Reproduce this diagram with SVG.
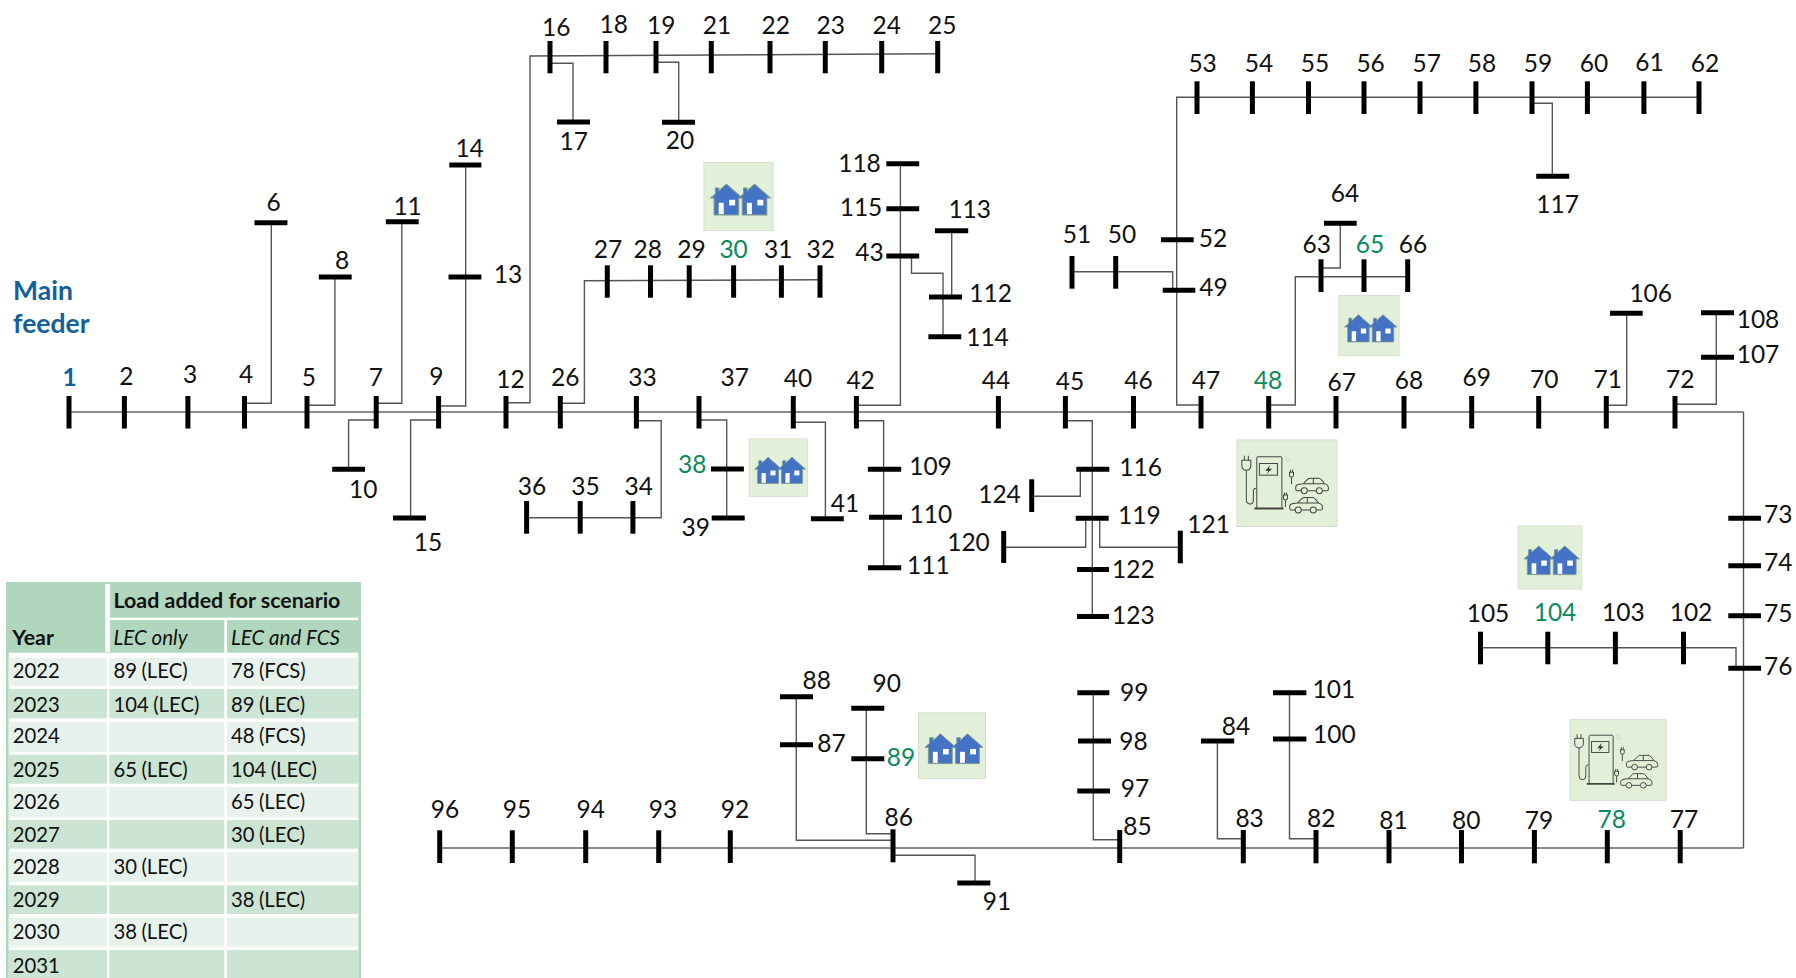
<svg xmlns="http://www.w3.org/2000/svg" width="1796" height="978" viewBox="0 0 1796 978">
<style>
text{font-family:"Lato","Liberation Sans",sans-serif;fill:#111}
.l{font-size:24.5px;text-anchor:middle;transform:translateY(.6px)}
.s{font-size:24.5px;text-anchor:start;transform:translateY(.6px)}
.gr{fill:#0a8a5c}
.bl{fill:#14609c;font-weight:700}
.b{stroke:#000;stroke-width:5;fill:none}
.c{stroke:#555;stroke-width:1.4;fill:none}
.m{stroke:#8c8c8c;stroke-width:2;fill:none}
.t{font-size:20.3px;word-spacing:-.8px}
.th{font-size:21.4px;font-weight:700}
.ti{font-size:20.5px;font-style:italic}
.h{fill:#b0d6bd}.lt{fill:#e8f2ec}.dk{fill:#cce4d4}
.box{fill:#e2efd9;stroke:#d3dacd;stroke-width:1}
.hs{fill:#4472c4;stroke:#7d9b8e;stroke-width:1}
.ic{fill:none;stroke:#444;stroke-width:1}
.feed{font-size:26.5px;font-weight:700;fill:#14609c}
</style>
<defs>
<g id="house">
<path class="hs" d="M7.2,36.6L12,32.4V26.5H15.5V29.4L23,22.5L38.8,36.6H35.2V53.6H10.7V36.6Z"/>
<rect x="15.3" y="41.3" width="5" height="11.5" fill="#fff"/>
<rect x="25.7" y="38.3" width="6" height="5.7" fill="#fff"/>
</g>
<symbol id="lec" viewBox="0 0 70 70" preserveAspectRatio="none">
<rect class="box" x=".5" y=".5" width="69" height="69"/>
<use href="#house"/>
<use href="#house" x="28"/>
</symbol>
<g id="car">
<path class="ic" d="M6,13H1.5Q.5,13 .5,11V9Q.5,7 4,6.5L8,6L13,1Q14,.5 16,.5H23Q25,.5 27,3L29,6Q33,7 33,10V12Q33,13 31,13H27M21,13H12M8,6H29M18,.5V6"/>
<circle class="ic" cx="9" cy="13" r="3"/><circle class="ic" cx="24" cy="13" r="3"/>
</g>
<g id="splug"><path class="ic" d="M-2,0H2V3Q2,5 0,5Q-2,5 -2,3ZM-1,0V-2.5M1,0V-2.5M0,5V12"/></g>
<symbol id="fcs" viewBox="0 0 101 88" preserveAspectRatio="none">
<rect class="box" x=".5" y=".5" width="100" height="87"/>
<path class="ic" d="M20.4,69V19Q20.4,17.6 22,17.6H44Q45.4,17.6 45.4,19V69"/>
<path d="M18,69.5H47" stroke="#444" stroke-width="2" fill="none"/>
<rect class="ic" x="23" y="24.3" width="18" height="11.7"/>
<path d="M33.5,26L29,31.5H32L30,35L35.5,29.5H32.5Z" fill="#333"/>
<path class="ic" d="M5.5,21H14.5V26Q14.5,31 10,31Q5.5,31 5.5,26ZM8,21V16.5M12,21V16.5M10,31V61Q10,65 14,65Q17,65 17,61V52Q17,49 20,49"/>
<path d="M48,20a3,3 0 0 1 3,3M48,17.5a5.5,5.5 0 0 1 5.5,5.5" fill="none" stroke="#c5d2bc" stroke-width=".8"/>
<use href="#car" x="58.7" y="38.6"/>
<use href="#car" x="52.7" y="58"/>
<use href="#splug" x="55" y="33"/>
<use href="#splug" x="49" y="56"/>
</symbol>
</defs>
<rect width="1796" height="978" fill="#fff"/>

<g id="connectors">
<path class="m" d="M69,412H1743.5"/>
<path class="m" d="M440,848H1743.5"/>
<path class="c" d="M1743.5,412V848"/>
<path class="c" d="M244.5,403.3H271.3V222.7"/>
<path class="c" d="M307,405.3H334.9V277"/>
<path class="c" d="M376.2,403.3H401.8V221.7"/>
<path class="c" d="M376.2,420H348.6V469.3"/>
<path class="c" d="M438.6,406H465.7V165"/>
<path class="c" d="M438.6,420H410.6V518"/>
<path class="c" d="M506,402.7H530V56L937.7,53.7"/>
<path class="c" d="M550,63.3H573V122"/>
<path class="c" d="M656,62.3H678.7V122.3"/>
<path class="c" d="M560.3,403.3H584.4V280.7L820,279.7"/>
<path class="c" d="M636.4,420.7H661.2V517.7H526.6"/>
<path class="c" d="M699,420H726.7V518"/>
<path class="c" d="M793.3,422.3H825.4V518.7"/>
<path class="c" d="M856.4,405.3H900.4V163.7"/>
<path class="c" d="M856.4,420.7H883.6V567.7"/>
<path class="c" d="M911.5,256V273.3H943V336.7"/>
<path class="c" d="M951.7,230.7V297"/>
<path class="c" d="M1065.4,420.7H1092.3V616.5"/>
<path class="c" d="M1080.3,469.3V496.3H1031.7"/>
<path class="c" d="M1085.7,518.3V547.3H1003.7"/>
<path class="c" d="M1099.7,518.3V547.3H1180.3"/>
<path class="c" d="M1201,405H1176.7V97.3H1699"/>
<path class="c" d="M1072,271.7H1172.7V290.3"/>
<path class="c" d="M1268.7,405H1295.3V276.7H1407.7"/>
<path class="c" d="M1321,268H1340.3V223.3"/>
<path class="c" d="M1532,103.3H1552.3V176.3"/>
<path class="c" d="M1606.3,405.3H1626.7V313.3"/>
<path class="c" d="M1675,404.3H1716.3V312.7"/>
<path class="c" d="M1480.5,647.7H1736V668.3"/>
<path class="c" d="M1243.3,838.7H1217.4V741"/>
<path class="c" d="M1316,838.7H1289.5V692.7"/>
<path class="c" d="M1119.7,839.7H1093.3V692.7"/>
<path class="c" d="M893,855.3H975V883"/>
<path class="c" d="M893,833.7H866.3V708.3"/>
<path class="c" d="M893,840.3H796.3V696.7"/>
</g>

<g id="icons">
<use href="#lec" x="703.3" y="161.7" width="70.4" height="69.6"/>
<use href="#lec" x="748.5" y="438.3" width="59.7" height="59"/>
<use href="#lec" x="1338.3" y="295" width="61.4" height="61.3"/>
<use href="#lec" x="1517.4" y="525.3" width="65" height="64.4"/>
<use href="#lec" x="918" y="712.3" width="68" height="67"/>
<use href="#fcs" x="1236.3" y="439.3" width="101.4" height="87.7"/>
<use href="#fcs" x="1569.4" y="718.7" width="97.3" height="82.6"/>
</g>

<g id="feeder-label"><text class="feed" x="13" y="300">Main</text><text class="feed" x="13" y="333">feeder</text></g>

<g id="n1"><line class="b" x1="69" y1="396" x2="69" y2="428.5"/><text class="l bl" x="69.7" y="385.7">1</text></g>
<g id="n2"><line class="b" x1="124.4" y1="396" x2="124.4" y2="428.5"/><text class="l" x="126.3" y="384.7">2</text></g>
<g id="n3"><line class="b" x1="187.9" y1="396" x2="187.9" y2="428.5"/><text class="l" x="190.2" y="382.7">3</text></g>
<g id="n4"><line class="b" x1="244.5" y1="396" x2="244.5" y2="428.5"/><text class="l" x="246" y="382">4</text></g>
<g id="n5"><line class="b" x1="307" y1="396" x2="307" y2="428.5"/><text class="l" x="308.8" y="385.7">5</text></g>
<g id="n6"><line class="b" x1="254.5" y1="222.7" x2="287.4" y2="222.7"/><text class="l" x="273.6" y="210">6</text></g>
<g id="n7"><line class="b" x1="376.2" y1="396" x2="376.2" y2="428.5"/><text class="l" x="375.8" y="385.7">7</text></g>
<g id="n8"><line class="b" x1="318.8" y1="277" x2="351.7" y2="277"/><text class="l" x="342" y="268.3">8</text></g>
<g id="n9"><line class="b" x1="438.6" y1="396" x2="438.6" y2="428.5"/><text class="l" x="436.3" y="384.7">9</text></g>
<g id="n10"><line class="b" x1="332.2" y1="469.3" x2="365" y2="469.3"/><text class="l" x="363.2" y="497.3">10</text></g>
<g id="n11"><line class="b" x1="385.8" y1="221.7" x2="418.7" y2="221.7"/><text class="l" x="407.6" y="214">11</text></g>
<g id="n12"><line class="b" x1="506" y1="396" x2="506" y2="428.5"/><text class="l" x="510.5" y="387.3">12</text></g>
<g id="n13"><line class="b" x1="448.5" y1="277" x2="481.4" y2="277"/><text class="s" x="493.7" y="282.7">13</text></g>
<g id="n14"><line class="b" x1="449.3" y1="165" x2="481.4" y2="165"/><text class="l" x="469.6" y="156.3">14</text></g>
<g id="n15"><line class="b" x1="393" y1="518" x2="426" y2="518"/><text class="l" x="427.9" y="550">15</text></g>
<g id="n16"><line class="b" x1="550" y1="41" x2="550" y2="73.3"/><text class="l" x="556.3" y="35">16</text></g>
<g id="n17"><line class="b" x1="557" y1="122" x2="590" y2="122"/><text class="l" x="573.7" y="149.3">17</text></g>
<g id="n18"><line class="b" x1="606" y1="41" x2="606" y2="73.3"/><text class="l" x="613.7" y="32">18</text></g>
<g id="n19"><line class="b" x1="656" y1="41" x2="656" y2="73.3"/><text class="l" x="661.3" y="33.3">19</text></g>
<g id="n20"><line class="b" x1="662" y1="122.3" x2="695" y2="122.3"/><text class="l" x="680" y="148.3">20</text></g>
<g id="n21"><line class="b" x1="711.3" y1="41" x2="711.3" y2="73.3"/><text class="l" x="717" y="33.3">21</text></g>
<g id="n22"><line class="b" x1="770" y1="41" x2="770" y2="73.3"/><text class="l" x="775.7" y="33.3">22</text></g>
<g id="n23"><line class="b" x1="825.3" y1="41" x2="825.3" y2="73.3"/><text class="l" x="830.7" y="33.3">23</text></g>
<g id="n24"><line class="b" x1="881.7" y1="41" x2="881.7" y2="73.3"/><text class="l" x="886.7" y="33.3">24</text></g>
<g id="n25"><line class="b" x1="937.7" y1="41" x2="937.7" y2="73.3"/><text class="l" x="942.3" y="33.3">25</text></g>
<g id="n26"><line class="b" x1="560.3" y1="396" x2="560.3" y2="428.5"/><text class="l" x="565.3" y="385">26</text></g>
<g id="n27"><line class="b" x1="607.3" y1="265.3" x2="607.3" y2="297.7"/><text class="l" x="608" y="257.7">27</text></g>
<g id="n28"><line class="b" x1="650.5" y1="265.3" x2="650.5" y2="297.7"/><text class="l" x="647.8" y="257.7">28</text></g>
<g id="n29"><line class="b" x1="689.2" y1="265.3" x2="689.2" y2="297.7"/><text class="l" x="691.5" y="257.7">29</text></g>
<g id="n30"><line class="b" x1="733.6" y1="265.3" x2="733.6" y2="297.7"/><text class="l gr" x="733.6" y="257">30</text></g>
<g id="n31"><line class="b" x1="781.4" y1="265.3" x2="781.4" y2="297.7"/><text class="l" x="778.3" y="257.7">31</text></g>
<g id="n32"><line class="b" x1="820" y1="265.3" x2="820" y2="297.7"/><text class="l" x="820.8" y="257.7">32</text></g>
<g id="n33"><line class="b" x1="636.4" y1="396" x2="636.4" y2="428.5"/><text class="l" x="642.5" y="385">33</text></g>
<g id="n34"><line class="b" x1="632.9" y1="501" x2="632.9" y2="533.7"/><text class="l" x="638.7" y="494.3">34</text></g>
<g id="n35"><line class="b" x1="580.2" y1="501" x2="580.2" y2="533.7"/><text class="l" x="585.5" y="494.3">35</text></g>
<g id="n36"><line class="b" x1="526.6" y1="501" x2="526.6" y2="533.7"/><text class="l" x="532" y="494.3">36</text></g>
<g id="n37"><line class="b" x1="699" y1="396" x2="699" y2="428.5"/><text class="l" x="734.7" y="385">37</text></g>
<g id="n38"><line class="b" x1="711" y1="469" x2="743.9" y2="469"/><text class="l gr" x="692.2" y="472.7">38</text></g>
<g id="n39"><line class="b" x1="711.7" y1="518" x2="744.7" y2="518"/><text class="l" x="695.7" y="535">39</text></g>
<g id="n40"><line class="b" x1="793.3" y1="396" x2="793.3" y2="428.5"/><text class="l" x="798" y="386.7">40</text></g>
<g id="n41"><line class="b" x1="810.9" y1="518.7" x2="843.8" y2="518.7"/><text class="l" x="845" y="511">41</text></g>
<g id="n42"><line class="b" x1="856.4" y1="396" x2="856.4" y2="428.5"/><text class="l" x="860.6" y="388">42</text></g>
<g id="n43"><line class="b" x1="886.3" y1="256" x2="919.2" y2="256"/><text class="l" x="869.4" y="260">43</text></g>
<g id="n44"><line class="b" x1="998.4" y1="396" x2="998.4" y2="428.5"/><text class="l" x="996" y="388">44</text></g>
<g id="n45"><line class="b" x1="1065.4" y1="396" x2="1065.4" y2="428.5"/><text class="l" x="1070" y="389">45</text></g>
<g id="n46"><line class="b" x1="1133.5" y1="396" x2="1133.5" y2="428.5"/><text class="l" x="1138.5" y="388">46</text></g>
<g id="n47"><line class="b" x1="1201" y1="396" x2="1201" y2="428.5"/><text class="l" x="1206" y="388">47</text></g>
<g id="n48"><line class="b" x1="1268.7" y1="396" x2="1268.7" y2="428.5"/><text class="l gr" x="1268" y="388.7">48</text></g>
<g id="n49"><line class="b" x1="1162.7" y1="290.3" x2="1195.3" y2="290.3"/><text class="s" x="1199.3" y="295">49</text></g>
<g id="n50"><line class="b" x1="1115.7" y1="256" x2="1115.7" y2="288.7"/><text class="l" x="1122" y="242.7">50</text></g>
<g id="n51"><line class="b" x1="1072" y1="256" x2="1072" y2="288.7"/><text class="l" x="1077" y="242.7">51</text></g>
<g id="n52"><line class="b" x1="1161" y1="239.7" x2="1193.7" y2="239.7"/><text class="s" x="1198.7" y="246">52</text></g>
<g id="n53"><line class="b" x1="1197" y1="81.3" x2="1197" y2="114"/><text class="l" x="1202.6" y="71.7">53</text></g>
<g id="n54"><line class="b" x1="1252.4" y1="81.3" x2="1252.4" y2="114"/><text class="l" x="1259" y="71.7">54</text></g>
<g id="n55"><line class="b" x1="1308.5" y1="81.3" x2="1308.5" y2="114"/><text class="l" x="1314.9" y="71.7">55</text></g>
<g id="n56"><line class="b" x1="1364" y1="81.3" x2="1364" y2="114"/><text class="l" x="1370.6" y="71.7">56</text></g>
<g id="n57"><line class="b" x1="1420" y1="81.3" x2="1420" y2="114"/><text class="l" x="1426.8" y="71.7">57</text></g>
<g id="n58"><line class="b" x1="1475.9" y1="81.3" x2="1475.9" y2="114"/><text class="l" x="1482" y="71.7">58</text></g>
<g id="n59"><line class="b" x1="1532" y1="81.3" x2="1532" y2="114"/><text class="l" x="1538" y="71.7">59</text></g>
<g id="n60"><line class="b" x1="1587.4" y1="81.3" x2="1587.4" y2="114"/><text class="l" x="1594" y="71.7">60</text></g>
<g id="n61"><line class="b" x1="1643.9" y1="81.3" x2="1643.9" y2="114"/><text class="l" x="1649.5" y="70">61</text></g>
<g id="n62"><line class="b" x1="1699" y1="81.3" x2="1699" y2="114"/><text class="l" x="1705" y="71">62</text></g>
<g id="n63"><line class="b" x1="1321" y1="259.3" x2="1321" y2="292"/><text class="l" x="1316.7" y="252.7">63</text></g>
<g id="n64"><line class="b" x1="1324" y1="223.3" x2="1356.7" y2="223.3"/><text class="l" x="1345" y="201">64</text></g>
<g id="n65"><line class="b" x1="1364" y1="259.3" x2="1364" y2="292"/><text class="l gr" x="1370" y="252.7">65</text></g>
<g id="n66"><line class="b" x1="1407.7" y1="259.3" x2="1407.7" y2="292"/><text class="l" x="1413" y="252.7">66</text></g>
<g id="n67"><line class="b" x1="1336" y1="396" x2="1336" y2="428.5"/><text class="l" x="1341.7" y="390.7">67</text></g>
<g id="n68"><line class="b" x1="1404" y1="396" x2="1404" y2="428.5"/><text class="l" x="1409" y="388.7">68</text></g>
<g id="n69"><line class="b" x1="1471.7" y1="396" x2="1471.7" y2="428.5"/><text class="l" x="1476.7" y="385.3">69</text></g>
<g id="n70"><line class="b" x1="1538.7" y1="396" x2="1538.7" y2="428.5"/><text class="l" x="1544.3" y="387.7">70</text></g>
<g id="n71"><line class="b" x1="1606.3" y1="396" x2="1606.3" y2="428.5"/><text class="l" x="1607.7" y="387.7">71</text></g>
<g id="n72"><line class="b" x1="1675" y1="396" x2="1675" y2="428.5"/><text class="l" x="1680.3" y="387.7">72</text></g>
<g id="n73"><line class="b" x1="1728.3" y1="518.3" x2="1761" y2="518.3"/><text class="s" x="1764" y="522">73</text></g>
<g id="n74"><line class="b" x1="1728.3" y1="565.7" x2="1761" y2="565.7"/><text class="s" x="1764" y="570.7">74</text></g>
<g id="n75"><line class="b" x1="1728.3" y1="615.7" x2="1761" y2="615.7"/><text class="s" x="1764" y="621">75</text></g>
<g id="n76"><line class="b" x1="1728.3" y1="668.3" x2="1761" y2="668.3"/><text class="s" x="1764" y="674.3">76</text></g>
<g id="n77"><line class="b" x1="1680.2" y1="830" x2="1680.2" y2="863.3"/><text class="l" x="1683.9" y="827">77</text></g>
<g id="n78"><line class="b" x1="1607.3" y1="830" x2="1607.3" y2="863.3"/><text class="l gr" x="1611.7" y="827">78</text></g>
<g id="n79"><line class="b" x1="1534.4" y1="830" x2="1534.4" y2="863.3"/><text class="l" x="1538.9" y="828">79</text></g>
<g id="n80"><line class="b" x1="1461.5" y1="830" x2="1461.5" y2="863.3"/><text class="l" x="1466.3" y="828.7">80</text></g>
<g id="n81"><line class="b" x1="1389" y1="830" x2="1389" y2="863.3"/><text class="l" x="1393.5" y="828.7">81</text></g>
<g id="n82"><line class="b" x1="1316" y1="830" x2="1316" y2="863.3"/><text class="l" x="1321.3" y="826">82</text></g>
<g id="n83"><line class="b" x1="1243.3" y1="830" x2="1243.3" y2="863.3"/><text class="l" x="1249.6" y="826">83</text></g>
<g id="n84"><line class="b" x1="1201" y1="741" x2="1234.2" y2="741"/><text class="l" x="1236" y="734">84</text></g>
<g id="n85"><line class="b" x1="1119.7" y1="830" x2="1119.7" y2="863"/><text class="s" x="1123.3" y="834">85</text></g>
<g id="n86"><line class="b" x1="893" y1="829.3" x2="893" y2="862.3"/><text class="l" x="898.7" y="825">86</text></g>
<g id="n87"><line class="b" x1="780" y1="744.7" x2="813" y2="744.7"/><text class="s" x="817.3" y="751.3">87</text></g>
<g id="n88"><line class="b" x1="780" y1="696.7" x2="813" y2="696.7"/><text class="l" x="816.7" y="688.7">88</text></g>
<g id="n89"><line class="b" x1="851.3" y1="758.7" x2="884.3" y2="758.7"/><text class="s gr" x="886.7" y="765.3">89</text></g>
<g id="n90"><line class="b" x1="851.3" y1="708.3" x2="884.3" y2="708.3"/><text class="l" x="886.7" y="691">90</text></g>
<g id="n91"><line class="b" x1="957.3" y1="883" x2="990.3" y2="883"/><text class="l" x="997" y="909.3">91</text></g>
<g id="n92"><line class="b" x1="730.3" y1="830.3" x2="730.3" y2="863"/><text class="l" x="735" y="817">92</text></g>
<g id="n93"><line class="b" x1="658.7" y1="830.3" x2="658.7" y2="863"/><text class="l" x="663" y="817">93</text></g>
<g id="n94"><line class="b" x1="585.7" y1="830.3" x2="585.7" y2="863"/><text class="l" x="590.7" y="817">94</text></g>
<g id="n95"><line class="b" x1="512.3" y1="830.3" x2="512.3" y2="863"/><text class="l" x="517" y="817">95</text></g>
<g id="n96"><line class="b" x1="439.7" y1="830.3" x2="439.7" y2="863"/><text class="l" x="445" y="817">96</text></g>
<g id="n97"><line class="b" x1="1077.3" y1="791" x2="1110" y2="791"/><text class="s" x="1120.7" y="796.7">97</text></g>
<g id="n98"><line class="b" x1="1078" y1="741" x2="1111" y2="741"/><text class="s" x="1119.3" y="749.3">98</text></g>
<g id="n99"><line class="b" x1="1077.3" y1="692.7" x2="1109.3" y2="692.7"/><text class="s" x="1120" y="700">99</text></g>
<g id="n100"><line class="b" x1="1273" y1="739" x2="1306.4" y2="739"/><text class="s" x="1313" y="742.7">100</text></g>
<g id="n101"><line class="b" x1="1273" y1="692.7" x2="1306.4" y2="692.7"/><text class="s" x="1312.5" y="697.3">101</text></g>
<g id="n102"><line class="b" x1="1683.5" y1="631.7" x2="1683.5" y2="664.3"/><text class="l" x="1691" y="620">102</text></g>
<g id="n103"><line class="b" x1="1615.4" y1="631.7" x2="1615.4" y2="664.3"/><text class="l" x="1623.4" y="620">103</text></g>
<g id="n104"><line class="b" x1="1547.8" y1="631.7" x2="1547.8" y2="664.3"/><text class="l gr" x="1555" y="620">104</text></g>
<g id="n105"><line class="b" x1="1480.5" y1="631.7" x2="1480.5" y2="664.3"/><text class="l" x="1488" y="621.7">105</text></g>
<g id="n106"><line class="b" x1="1610" y1="313.3" x2="1642.7" y2="313.3"/><text class="l" x="1650.7" y="301.7">106</text></g>
<g id="n107"><line class="b" x1="1701" y1="357.3" x2="1734" y2="357.3"/><text class="s" x="1736.7" y="362.3">107</text></g>
<g id="n108"><line class="b" x1="1701" y1="312.7" x2="1734" y2="312.7"/><text class="s" x="1736.7" y="327.7">108</text></g>
<g id="n109"><line class="b" x1="867.9" y1="469.3" x2="901.2" y2="469.3"/><text class="s" x="909.2" y="474.3">109</text></g>
<g id="n110"><line class="b" x1="869" y1="517.3" x2="902" y2="517.3"/><text class="s" x="909.6" y="522.7">110</text></g>
<g id="n111"><line class="b" x1="867.9" y1="567.7" x2="901.2" y2="567.7"/><text class="s" x="907" y="573">111</text></g>
<g id="n112"><line class="b" x1="929" y1="297" x2="962" y2="297"/><text class="s" x="969.3" y="301.7">112</text></g>
<g id="n113"><line class="b" x1="934.9" y1="230.7" x2="968.2" y2="230.7"/><text class="l" x="969.7" y="217.7">113</text></g>
<g id="n114"><line class="b" x1="928.4" y1="336.7" x2="961.3" y2="336.7"/><text class="s" x="966.2" y="345">114</text></g>
<g id="n115"><line class="b" x1="886.3" y1="208.7" x2="919.2" y2="208.7"/><text class="l" x="861" y="215">115</text></g>
<g id="n116"><line class="b" x1="1076.3" y1="469.3" x2="1109.3" y2="469.3"/><text class="s" x="1119.3" y="475">116</text></g>
<g id="n117"><line class="b" x1="1536.2" y1="176.3" x2="1569.2" y2="176.3"/><text class="l" x="1557.6" y="212.7">117</text></g>
<g id="n118"><line class="b" x1="886.3" y1="163.7" x2="919.2" y2="163.7"/><text class="l" x="859.5" y="171.7">118</text></g>
<g id="n119"><line class="b" x1="1075.7" y1="518.3" x2="1108.7" y2="518.3"/><text class="s" x="1118" y="523">119</text></g>
<g id="n120"><line class="b" x1="1003.7" y1="531" x2="1003.7" y2="563"/><text class="l" x="968.5" y="550.7">120</text></g>
<g id="n121"><line class="b" x1="1180.3" y1="530.7" x2="1180.3" y2="563.3"/><text class="s" x="1187.3" y="532.7">121</text></g>
<g id="n122"><line class="b" x1="1077" y1="569.5" x2="1109" y2="569.5"/><text class="s" x="1112" y="577">122</text></g>
<g id="n123"><line class="b" x1="1077" y1="616.5" x2="1109" y2="616.5"/><text class="s" x="1112" y="623.7">123</text></g>
<g id="n124"><line class="b" x1="1031.7" y1="479.3" x2="1031.7" y2="512"/><text class="l" x="999.5" y="502.7">124</text></g>

<g id="table">
<rect class="h" x="6" y="582" width="355" height="396"/>
<rect fill="#fff" x="105.3" y="584" width="4.7" height="68"/>
<rect fill="#fff" x="110" y="617.7" width="248.3" height="2.4"/>
<rect fill="#fff" x="224.3" y="620" width="2.7" height="33"/>
<rect fill="#fff" x="8.7" y="652.7" width="349.6" height="325.3"/>
<rect class="lt" x="8.7" y="658" width="98.3" height="27.7"/><rect class="lt" x="109.3" y="658" width="115" height="27.7"/><rect class="lt" x="227" y="658" width="131.3" height="27.7"/>
<rect class="dk" x="8.7" y="689" width="98.3" height="29.3"/><rect class="dk" x="109.3" y="689" width="115" height="29.3"/><rect class="dk" x="227" y="689" width="131.3" height="29.3"/>
<rect class="lt" x="8.7" y="722" width="98.3" height="30"/><rect class="lt" x="109.3" y="722" width="115" height="30"/><rect class="lt" x="227" y="722" width="131.3" height="30"/>
<rect class="dk" x="8.7" y="754.7" width="98.3" height="29"/><rect class="dk" x="109.3" y="754.7" width="115" height="29"/><rect class="dk" x="227" y="754.7" width="131.3" height="29"/>
<rect class="lt" x="8.7" y="787" width="98.3" height="30"/><rect class="lt" x="109.3" y="787" width="115" height="30"/><rect class="lt" x="227" y="787" width="131.3" height="30"/>
<rect class="dk" x="8.7" y="820" width="98.3" height="28.7"/><rect class="dk" x="109.3" y="820" width="115" height="28.7"/><rect class="dk" x="227" y="820" width="131.3" height="28.7"/>
<rect class="lt" x="8.7" y="852.3" width="98.3" height="29.7"/><rect class="lt" x="109.3" y="852.3" width="115" height="29.7"/><rect class="lt" x="227" y="852.3" width="131.3" height="29.7"/>
<rect class="dk" x="8.7" y="885.3" width="98.3" height="28.7"/><rect class="dk" x="109.3" y="885.3" width="115" height="28.7"/><rect class="dk" x="227" y="885.3" width="131.3" height="28.7"/>
<rect class="lt" x="8.7" y="917.7" width="98.3" height="29"/><rect class="lt" x="109.3" y="917.7" width="115" height="29"/><rect class="lt" x="227" y="917.7" width="131.3" height="29"/>
<rect class="dk" x="8.7" y="950" width="98.3" height="28"/><rect class="dk" x="109.3" y="950" width="115" height="28"/><rect class="dk" x="227" y="950" width="131.3" height="28"/>
<text class="th" x="113.5" y="608.3">Load added for scenario</text>
<text class="th" x="12.2" y="644.7">Year</text>
<text class="ti" x="113.5" y="644.7">LEC only</text>
<text class="ti" x="231" y="644.7">LEC and FCS</text>
<text class="t" x="12.7" y="678.3">2022</text><text class="t" x="113.5" y="678.3">89 (LEC)</text><text class="t" x="231" y="678.3">78 (FCS)</text>
<text class="t" x="12.7" y="711.7">2023</text><text class="t" x="113.5" y="711.7">104 (LEC)</text><text class="t" x="231" y="711.7">89 (LEC)</text>
<text class="t" x="12.7" y="743.3">2024</text><text class="t" x="231" y="743.3">48 (FCS)</text>
<text class="t" x="12.7" y="776.7">2025</text><text class="t" x="113.5" y="776.7">65 (LEC)</text><text class="t" x="231" y="776.7">104 (LEC)</text>
<text class="t" x="12.7" y="809">2026</text><text class="t" x="231" y="809">65 (LEC)</text>
<text class="t" x="12.7" y="841.7">2027</text><text class="t" x="231" y="841.7">30 (LEC)</text>
<text class="t" x="12.7" y="874.3">2028</text><text class="t" x="113.5" y="874.3">30 (LEC)</text>
<text class="t" x="12.7" y="907.3">2029</text><text class="t" x="231" y="907.3">38 (LEC)</text>
<text class="t" x="12.7" y="939.3">2030</text><text class="t" x="113.5" y="939.3">38 (LEC)</text>
<text class="t" x="12.7" y="972.7">2031</text>
</g>
</svg>
